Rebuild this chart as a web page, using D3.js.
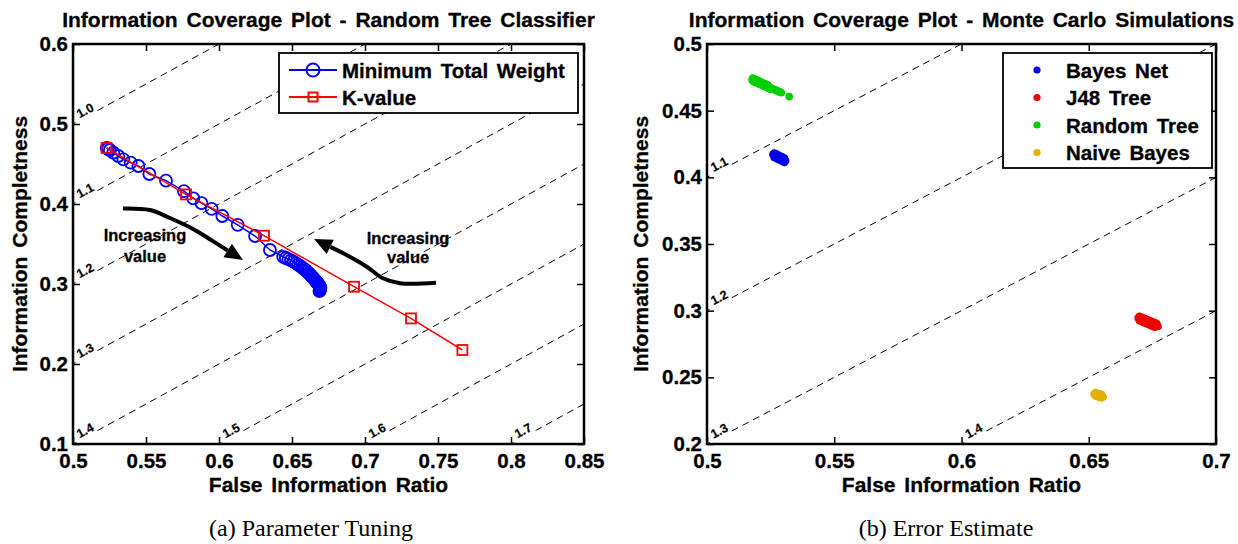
<!DOCTYPE html>
<meta charset="utf-8">
<title>Information Coverage Plots</title>
<style>
body { margin: 0; background: #fff; }
svg text { font-family: Arial, "Liberation Sans", Helvetica, sans-serif; font-weight: bold; fill: #000; stroke: #000; stroke-width: 0.3px; }
text.title, text.axlabel { font-size: 21px; word-spacing: 3px; }
.axis text { font-size: 20.5px; }
text.legend { font-size: 20.5px; word-spacing: 3px; }
text.clabel { font-size: 12.5px; stroke-width: 0.2px; }
text.note { font-size: 16.5px; }
text.caption { font-family: "Liberation Serif", "Times New Roman", serif; font-weight: normal; font-size: 24px; stroke: none; }
</style>
<script src="https://cdn.jsdelivr.net/npm/d3@7"></script>
<div id="chart"></div>
<script>
// ---------- (a) parameter tuning
var mtwX = [0.5231,0.5240,0.5253,0.5276,0.5310,0.5345,0.5395,0.5448,0.5523,0.5637,0.5760,0.5824,0.5880,0.5950,0.6023,0.6128,0.6247,0.6349,
            0.6440,0.6458,0.6475,0.6493,0.6510,0.6527,0.6543,0.6557,0.6570,0.6581,0.6592,0.6602,0.6612,0.6621,0.6630,0.6639,0.6648,0.6655,
            0.6662,0.6669,0.6675,0.6682,0.6688,0.6691,0.6694,0.6693,0.6692,0.6690,0.6688];
var mtwY = [0.4700,0.4690,0.4675,0.4641,0.4600,0.4559,0.4517,0.4475,0.4375,0.4292,0.4160,0.4070,0.4010,0.3940,0.3850,0.3740,0.3600,0.3425,
            0.3340,0.3325,0.3310,0.3295,0.3280,0.3260,0.3240,0.3222,0.3205,0.3190,0.3175,0.3158,0.3140,0.3122,0.3105,0.3088,0.3070,0.3055,
            0.3040,0.3025,0.3010,0.2995,0.2980,0.2968,0.2955,0.2942,0.2930,0.2920,0.2910];
var kvX = [0.5230,0.5774,0.6308,0.6925,0.7315,0.7667];
var kvY = [0.4700,0.4120,0.3604,0.2966,0.2570,0.2175];

var aXTicks = [0.5,0.55,0.6,0.65,0.7,0.75,0.8,0.85];
var aXTickLabels = ["0.5","0.55","0.6","0.65","0.7","0.75","0.8","0.85"];
var aYTicks = [0.1,0.2,0.3,0.4,0.5,0.6];
var aYTickLabels = ["0.1","0.2","0.3","0.4","0.5","0.6"];
var aLevels = [1.0,1.1,1.2,1.3,1.4,1.5,1.6,1.7];
var aLevelLabels = ["1.0","1.1","1.2","1.3","1.4","1.5","1.6","1.7"];

// "Increasing value" arrows (data coordinates, tip last)
var arrowLX = [0.5342,0.5527,0.5664,0.5822,0.5950,0.6164];
var arrowLY = [0.3944,0.3925,0.3825,0.3688,0.3545,0.3300];
var arrowRX = [0.7486,0.7240,0.7123,0.7012,0.6851,0.6651];
var arrowRY = [0.3016,0.3009,0.3071,0.3216,0.3384,0.3563];

// ---------- (b) error estimate
var bnX = [0.5259,0.5264,0.5269,0.5274,0.5279,0.5284,0.5289,0.5294,0.5299,0.5304,0.5309,
           0.5264,0.5274,0.5284,0.5294,0.5304, 0.5264,0.5274,0.5284,0.5294,0.5304];
var bnY = [0.4171,0.4166,0.4162,0.4157,0.4152,0.4147,0.4143,0.4138,0.4133,0.4128,0.4124,
           0.4183,0.4174,0.4164,0.4155,0.4145, 0.4149,0.4140,0.4130,0.4121,0.4111];
var j48X = [0.6694,0.6699,0.6704,0.6709,0.6714,0.6719,0.6724,0.6729,0.6734,0.6739,0.6744,0.6749,0.6754,0.6759,0.6764,0.6769,0.6772,
            0.6699,0.6709,0.6719,0.6729,0.6739,0.6749,0.6759,0.6767, 0.6699,0.6709,0.6719,0.6729,0.6739,0.6749,0.6759];
var j48Y = [0.2945,0.2941,0.2937,0.2933,0.2929,0.2925,0.2921,0.2917,0.2913,0.2909,0.2905,0.2901,0.2897,0.2893,0.2889,0.2885,0.2882,
            0.2958,0.2950,0.2942,0.2934,0.2926,0.2918,0.2910,0.2904, 0.2924,0.2916,0.2908,0.2900,0.2892,0.2884,0.2876];
var rtX = [0.5177,0.5182,0.5187,0.5192,0.5197,0.5202,0.5207,0.5212,0.5217,0.5222,0.5227,0.5232,0.5237,0.5242,0.5247,0.5252,0.5257,0.5262,0.5267,0.5272,0.5277,0.5282,0.5287,0.5292,
           0.5180,0.5190,0.5200,0.5210,0.5220,0.5230,0.5240, 0.5180,0.5190,0.5200,0.5210,0.5220,0.5230,0.5240,0.5250, 0.5323];
var rtY = [0.4734,0.4729,0.4725,0.4721,0.4716,0.4712,0.4708,0.4704,0.4699,0.4695,0.4691,0.4686,0.4682,0.4678,0.4673,0.4669,0.4665,0.4660,0.4656,0.4652,0.4648,0.4643,0.4639,0.4635,
           0.4744,0.4735,0.4727,0.4718,0.4709,0.4701,0.4692, 0.4720,0.4711,0.4703,0.4694,0.4685,0.4677,0.4668,0.4659, 0.4605];
var nbX = [0.6521,0.6527,0.6533,0.6539,0.6545,0.6551,0.6557,0.6527,0.6535,0.6543,0.6551,0.6527,0.6535,0.6543,0.6551];
var nbY = [0.2375,0.2372,0.2369,0.2365,0.2361,0.2357,0.2353,0.2385,0.2381,0.2376,0.2370,0.2360,0.2355,0.2350,0.2346];
var bNames = ["Bayes Net","J48 Tree","Random Tree","Naive Bayes"];

var bXTicks = [0.5,0.55,0.6,0.65,0.7];
var bXTickLabels = ["0.5","0.55","0.6","0.65","0.7"];
var bYTicks = [0.2,0.25,0.3,0.35,0.4,0.45,0.5];
var bYTickLabels = ["0.2","0.25","0.3","0.35","0.4","0.45","0.5"];
var bLevels = [1.1,1.2,1.3,1.4];
var bLevelLabels = ["1.1","1.2","1.3","1.4"];

var svg = d3.select("#chart").append("svg")
    .attr("width", 1238).attr("height", 544);

function zip(a, b) { return a.map(function(v, i) { return [v, b[i]]; }); }

function panel(p) {
  var x = d3.scaleLinear().domain(p.xDom).range([p.left, p.right]);
  var y = d3.scaleLinear().domain(p.yDom).range([p.bottom, p.top]);
  var g = svg.append("g");

  g.append("clipPath").attr("id", p.id + "clip")
    .append("rect").attr("x", p.left).attr("y", p.top)
    .attr("width", p.right - p.left).attr("height", p.bottom - p.top);

  // iso-coverage lines: coverage = FIR + 1 - IC
  var lab = g.append("g");
  p.levels.forEach(function(v, i) {
    var xs = Math.max(p.xDom[0], p.yDom[0] - 1 + v),
        xe = Math.min(p.xDom[1], p.yDom[1] - 1 + v);
    if (xe <= xs) return;
    var x0 = x(xs), y0 = y(xs + 1 - v), x1 = x(xe), y1 = y(xe + 1 - v);
    var len = Math.hypot(x1 - x0, y1 - y0), ux = (x1 - x0) / len, uy = (y1 - y0) / len;
    var path = d3.path();
    path.moveTo(x0, y0); path.lineTo(x0 + 3 * ux, y0 + 3 * uy);
    path.moveTo(x0 + 28 * ux, y0 + 28 * uy); path.lineTo(x1, y1);
    lab.append("path").attr("d", path.toString())
      .attr("fill", "none").attr("stroke", "#000").attr("stroke-width", 1)
      .attr("stroke-dasharray", "7,5");
    var cx = x0 + 17 * ux + 6 * uy, cy = y0 + 17 * uy - 6 * ux;
    var ang = Math.atan2(uy, ux) * 180 / Math.PI;
    lab.append("text").attr("class", "clabel")
      .attr("transform", "translate(" + cx + "," + cy + ") rotate(" + ang + ")")
      .attr("text-anchor", "middle").attr("dy", "0.35em")
      .text(p.levelLabels[i]);
  });

  // axes with inward ticks on all four sides
  function styleAxis(a) {
    a.attr("font-size", null).attr("font-family", null);
    a.select(".domain").remove();
    a.selectAll(".tick line").attr("stroke-width", 1.5);
  }
  g.append("g").attr("class", "axis").attr("transform", "translate(0," + p.bottom + ")")
    .call(d3.axisBottom(x).tickValues(p.xTicks).tickSizeInner(-7).tickSizeOuter(0).tickPadding(9.4)
      .tickFormat(function(d, i) { return p.xTickLabels[i]; }))
    .call(styleAxis);
  g.append("g").attr("class", "axis").attr("transform", "translate(0," + p.top + ")")
    .call(d3.axisTop(x).tickValues(p.xTicks).tickSizeInner(-7).tickSizeOuter(0).tickFormat(""))
    .call(styleAxis);
  g.append("g").attr("class", "axis").attr("transform", "translate(" + p.left + ",0)")
    .call(d3.axisLeft(y).tickValues(p.yTicks).tickSizeInner(-7).tickSizeOuter(0).tickPadding(5)
      .tickFormat(function(d, i) { return p.yTickLabels[i]; }))
    .call(styleAxis);
  g.append("g").attr("class", "axis").attr("transform", "translate(" + p.right + ",0)")
    .call(d3.axisRight(y).tickValues(p.yTicks).tickSizeInner(-7).tickSizeOuter(0).tickFormat(""))
    .call(styleAxis);

  var plot = g.append("g").attr("clip-path", "url(#" + p.id + "clip)");

  g.append("text").attr("class", "title")
    .attr("x", (p.left + p.right) / 2).attr("y", 27).attr("text-anchor", "middle").text(p.title);
  g.append("text").attr("class", "axlabel")
    .attr("x", (p.left + p.right) / 2).attr("y", 492).attr("text-anchor", "middle")
    .text("False Information Ratio");
  g.append("text").attr("class", "axlabel")
    .attr("transform", "translate(" + p.ylabX + "," + (p.top + p.bottom) / 2 + ") rotate(-90)")
    .attr("text-anchor", "middle").text("Information Completness");
  g.append("text").attr("class", "caption")
    .attr("x", p.capX).attr("y", 536).attr("text-anchor", "middle").text(p.caption);

  return { g: g, plot: plot, x: x, y: y };
}

// ================= panel (a)
var A = panel({
  id: "a", left: 73, right: 584, top: 44, bottom: 444,
  xDom: [0.5, 0.85], yDom: [0.1, 0.6],
  xTicks: aXTicks, xTickLabels: aXTickLabels, yTicks: aYTicks, yTickLabels: aYTickLabels,
  levels: aLevels, levelLabels: aLevelLabels,
  title: "Information Coverage Plot - Random Tree Classifier",
  ylabX: 27, capX: 311, caption: "(a) Parameter Tuning"
});

var mtw = zip(mtwX, mtwY), kv = zip(kvX, kvY);
var lineA = d3.line().x(function(d) { return A.x(d[0]); }).y(function(d) { return A.y(d[1]); });

A.plot.append("path").datum(mtw).attr("d", lineA)
  .attr("fill", "none").attr("stroke", "#0000ff").attr("stroke-width", 1.5);
A.plot.selectAll("circle.mtw").data(mtw).enter().append("circle").attr("class", "mtw")
  .attr("cx", function(d) { return A.x(d[0]); }).attr("cy", function(d) { return A.y(d[1]); })
  .attr("r", 6).attr("fill", "none").attr("stroke", "#0000ff").attr("stroke-width", 1.8);

A.plot.append("path").datum(kv).attr("d", lineA)
  .attr("fill", "none").attr("stroke", "#ff0000").attr("stroke-width", 1.5);
A.plot.selectAll("rect.kv").data(kv).enter().append("rect").attr("class", "kv")
  .attr("x", function(d) { return A.x(d[0]) - 5; }).attr("y", function(d) { return A.y(d[1]) - 5; })
  .attr("width", 10).attr("height", 10)
  .attr("fill", "none").attr("stroke", "#ff0000").attr("stroke-width", 1.8);

// annotation arrows
function arrow(xs, ys) {
  var pts = zip(xs, ys).map(function(d) { return [A.x(d[0]), A.y(d[1])]; });
  var tip = pts[pts.length - 1], prev = pts[pts.length - 2];
  var dx = tip[0] - prev[0], dy = tip[1] - prev[1], l = Math.hypot(dx, dy);
  dx /= l; dy /= l;
  var hl = 18, hw = 8;
  var base = [tip[0] - hl * dx, tip[1] - hl * dy];
  var body = pts.slice(0, -1).concat([base]);
  A.g.append("path").attr("d", d3.line().curve(d3.curveCatmullRom)(body))
    .attr("fill", "none").attr("stroke", "#000").attr("stroke-width", 4);
  A.g.append("path")
    .attr("d", "M" + tip + "L" + [base[0] + hw * dy, base[1] - hw * dx] + "L" + [base[0] - hw * dy, base[1] + hw * dx] + "Z")
    .attr("fill", "#000");
}
arrow(arrowLX, arrowLY);
arrow(arrowRX, arrowRY);

[[0.5493, 0.3538, "Increasing"], [0.5493, 0.3275, "value"],
 [0.7295, 0.3500, "Increasing"], [0.7295, 0.3262, "value"]].forEach(function(t) {
  A.g.append("text").attr("class", "note").attr("text-anchor", "middle")
    .attr("x", A.x(t[0])).attr("y", A.y(t[1])).text(t[2]);
});

// legend (a)
var lgA = A.g.append("g").attr("transform", "translate(279,53)");
lgA.append("rect").attr("width", 299).attr("height", 60)
  .attr("fill", "#fff").attr("stroke", "#000").attr("stroke-width", 1.8);
lgA.append("line").attr("x1", 10).attr("x2", 58).attr("y1", 17).attr("y2", 17)
  .attr("stroke", "#0000ff").attr("stroke-width", 2);
lgA.append("circle").attr("cx", 34).attr("cy", 17).attr("r", 6.5)
  .attr("fill", "none").attr("stroke", "#0000ff").attr("stroke-width", 2);
lgA.append("text").attr("class", "legend").attr("x", 63).attr("y", 24.5).text("Minimum Total Weight");
lgA.append("line").attr("x1", 10).attr("x2", 58).attr("y1", 44).attr("y2", 44)
  .attr("stroke", "#ff0000").attr("stroke-width", 2);
lgA.append("rect").attr("x", 29.5).attr("y", 39.5).attr("width", 9).attr("height", 9)
  .attr("fill", "none").attr("stroke", "#ff0000").attr("stroke-width", 2);
lgA.append("text").attr("class", "legend").attr("x", 63).attr("y", 51.5).text("K-value");

// ================= panel (b)
var B = panel({
  id: "b", left: 707, right: 1216, top: 44, bottom: 444,
  xDom: [0.5, 0.7], yDom: [0.2, 0.5],
  xTicks: bXTicks, xTickLabels: bXTickLabels, yTicks: bYTicks, yTickLabels: bYTickLabels,
  levels: bLevels, levelLabels: bLevelLabels,
  title: "Information Coverage Plot - Monte Carlo Simulations",
  ylabX: 648, capX: 946, caption: "(b) Error Estimate"
});

var bColors = ["#0000f0", "#f00000", "#00d000", "#e6b000"];
var bSeries = [zip(bnX, bnY), zip(j48X, j48Y), zip(rtX, rtY), zip(nbX, nbY)];
bSeries.forEach(function(s, k) {
  B.plot.selectAll("circle.s" + k).data(s).enter().append("circle").attr("class", "s" + k)
    .attr("cx", function(d) { return B.x(d[0]); }).attr("cy", function(d) { return B.y(d[1]); })
    .attr("r", 3.8).attr("fill", bColors[k]);
});

var lgB = B.g.append("g").attr("transform", "translate(1003,53)");
lgB.append("rect").attr("width", 209).attr("height", 115)
  .attr("fill", "#fff").attr("stroke", "#000").attr("stroke-width", 1.8);
bNames.forEach(function(n, k) {
  var cy = 17 + 27.5 * k;
  lgB.append("circle").attr("cx", 34).attr("cy", cy).attr("r", 3.6).attr("fill", bColors[k]);
  lgB.append("text").attr("class", "legend").attr("x", 63).attr("y", cy + 7.5).text(n);
});

// plot frames
[[73, 584], [707, 1216]].forEach(function(b) {
  svg.append("rect").attr("x", b[0]).attr("y", 44).attr("width", b[1] - b[0]).attr("height", 400)
    .attr("fill", "none").attr("stroke", "#000").attr("stroke-width", 2.5);
});
</script>
